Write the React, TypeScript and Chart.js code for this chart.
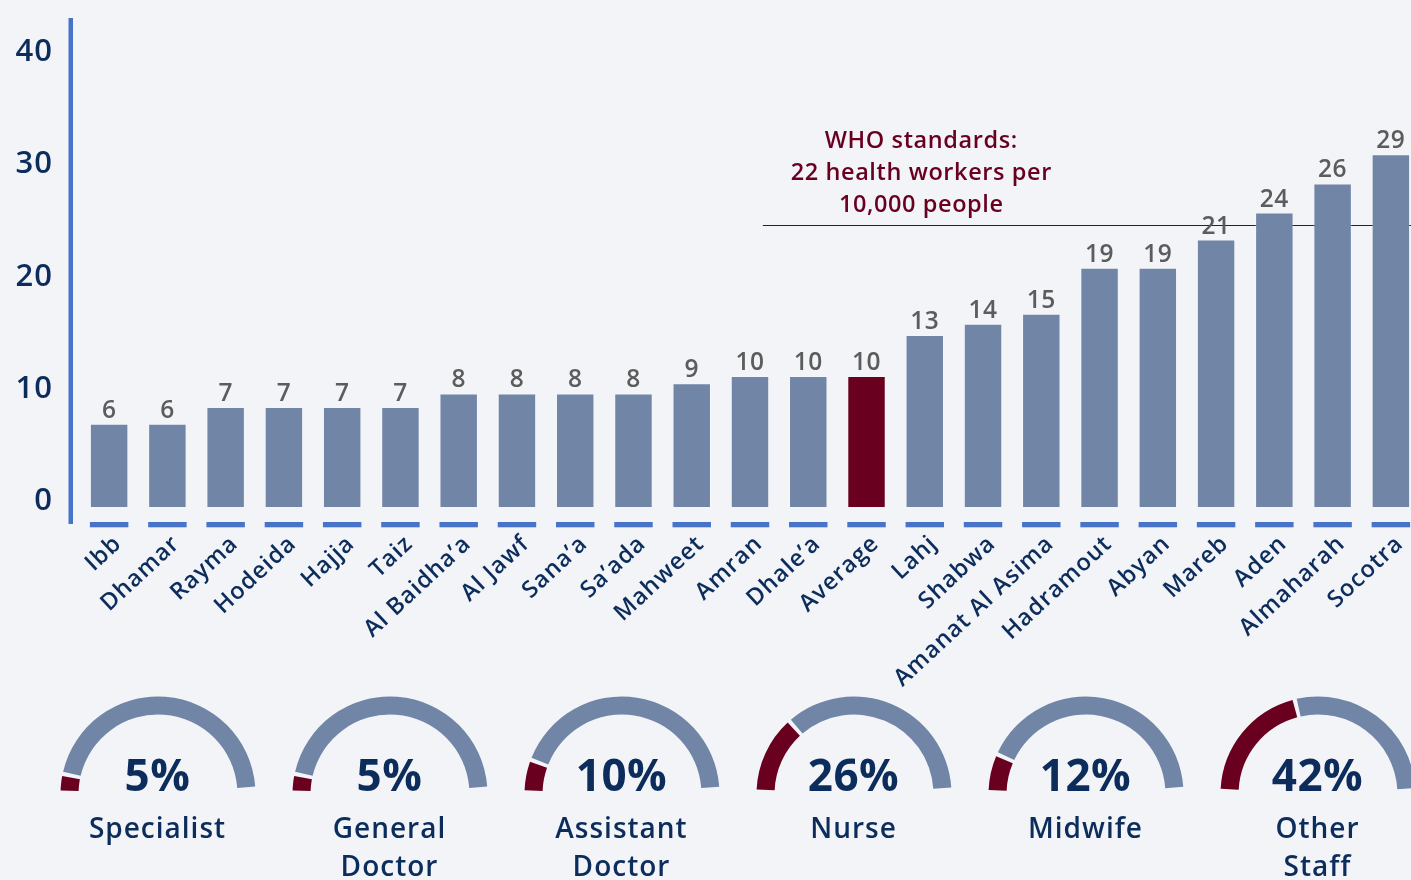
import React, { useEffect, useRef } from 'react';
import { Chart, registerables } from 'chart.js';

Chart.register(...registerables);

// ---------- data ----------
const categories = [
  'Ibb', 'Dhamar', 'Rayma', 'Hodeida', 'Hajja', 'Taiz', 'Al Baidha’a', 'Al Jawf',
  'Sana’a', 'Sa’ada', 'Mahweet', 'Amran', 'Dhale’a', 'Average', 'Lahj', 'Shabwa',
  'Amanat Al Asima', 'Hadramout', 'Abyan', 'Mareb', 'Aden', 'Almaharah', 'Socotra',
];
// bar heights as read against the left axis
const barValues = [
  6.7, 6.7, 8.2, 8.2, 8.2, 8.2, 9.4, 9.4, 9.4, 9.4, 10.3, 10.95, 10.95, 10.95,
  14.6, 15.6, 16.5, 20.6, 20.6, 23.1, 25.5, 28.1, 30.7,
];
// numbers printed above the bars
const valueLabels = [
  '6', '6', '7', '7', '7', '7', '8', '8', '8', '8', '9', '10', '10', '10',
  '13', '14', '15', '19', '19', '21', '24', '26', '29',
];
const highlightIndex = 13;
const yTicks = [0, 10, 20, 30, 40];
const whoLineValue = 24.4;
const whoText = ['WHO standards:', '22 health workers per', '10,000 people'];

const gaugeValues = [5, 5, 10, 26, 12, 42];
const gaugeLabels = [
  ['Specialist'], ['General', 'Doctor'], ['Assistant', 'Doctor'],
  ['Nurse'], ['Midwife'], ['Other', 'Staff'],
];

// ---------- style ----------
const BG = '#f2f4f8';
const GREY = '#7185a6';
const RED = '#6a0020';
const BLUE = '#4774c8';
const NAVY = '#0c2d5c';
const LABEL_GREY = '#5c5c5c';
const FONT = '"Open Sans", "Noto Sans", sans-serif';

const Y_MIN = -1.96;
const Y_MAX = 42.83;
const BAR_BASE = -0.71;

const overlayPlugin = {
  id: 'overlay',
  beforeDraw(chart: any) {
    (chart.ctx as any).letterSpacing = '1px';
  },
  beforeDatasetsDraw(chart: any) {
    const { ctx, chartArea, scales } = chart;
    const x = scales.x;
    const y = scales.y;
    ctx.save();
    // y axis line
    ctx.fillStyle = BLUE;
    ctx.fillRect(chartArea.left - 11.5, chartArea.top, 4.5, chartArea.bottom + 3 - chartArea.top);
    // WHO line
    const ly = Math.round(y.getPixelForValue(whoLineValue)) + 0.5;
    ctx.strokeStyle = RED;
    ctx.lineWidth = 1.2;
    ctx.beginPath();
    ctx.moveTo(x.getPixelForValue(11.22), ly);
    ctx.lineTo(chartArea.right, ly);
    ctx.stroke();
    // WHO text
    ctx.fillStyle = RED;
    ctx.font = `600 23.5px ${FONT}`;
    (ctx as any).letterSpacing = '0.6px';
    ctx.textAlign = 'center';
    ctx.textBaseline = 'alphabetic';
    const tx = x.getPixelForValue(13.94);
    whoText.forEach((t, i) => {
      ctx.fillText(t, tx, ly - 78 + i * 32);
    });
    ctx.restore();
  },
  afterDatasetsDraw(chart: any) {
    const { ctx, chartArea } = chart;
    const meta = chart.getDatasetMeta(0);
    ctx.save();
    (ctx as any).letterSpacing = '0.5px';
    meta.data.forEach((bar: any, i: number) => {
      const p = bar.getProps(['x', 'y', 'width'], true);
      ctx.fillStyle = BLUE;
      ctx.fillRect(p.x - p.width / 2, chartArea.bottom + 1, p.width, 5.3);
      ctx.fillStyle = LABEL_GREY;
      ctx.font = `600 24.5px ${FONT}`;
      ctx.textAlign = 'center';
      ctx.textBaseline = 'alphabetic';
      ctx.fillText(valueLabels[i], p.x, p.y - 6);
    });
    ctx.restore();
  },
};

function BarChart() {
  const ref = useRef<HTMLCanvasElement>(null);
  useEffect(() => {
    const canvas = ref.current;
    if (!canvas) return;
    const chart = new Chart(canvas, {
      type: 'bar',
      data: {
        labels: categories,
        datasets: [
          {
            data: barValues,
            base: BAR_BASE,
            backgroundColor: categories.map((_, i) => (i === highlightIndex ? RED : GREY)),
            borderColor: 'rgba(255,255,255,0.22)',
            borderWidth: 1,
            barPercentage: 0.66,
            categoryPercentage: 1,
          } as any,
        ],
      },
      options: {
        animation: false,
        responsive: false,
        maintainAspectRatio: false,
        events: [],
        layout: { padding: { top: 18, right: 10, left: 0, bottom: 0 } },
        plugins: { legend: { display: false }, tooltip: { enabled: false } },
        scales: {
          x: {
            offset: true,
            grid: { display: false, drawTicks: false },
            border: { display: false },
            ticks: {
              color: NAVY,
              font: { family: FONT, size: 23.5, weight: 600 as any },
              maxRotation: 43,
              minRotation: 43,
              autoSkip: false,
              padding: 9,
              labelOffset: 9,
            },
            afterFit: (s: any) => {
              s.height = 179;
              s.paddingLeft = 0;
              s.paddingRight = 0;
            },
          },
          y: {
            min: Y_MIN,
            max: Y_MAX,
            grid: { display: false, drawTicks: false },
            border: { display: false },
            afterBuildTicks: (s: any) => {
              s.ticks = yTicks.map((v) => ({ value: v }));
            },
            ticks: {
              color: NAVY,
              font: { family: FONT, size: 31, weight: 600 as any },
              padding: 27,
              labelOffset: 2.5,
            },
            afterFit: (s: any) => {
              s.width = 80;
              s.paddingTop = 0;
              s.paddingBottom = 0;
            },
          },
        },
      },
      plugins: [overlayPlugin],
    });
    return () => chart.destroy();
  }, []);
  return (
    <canvas
      ref={ref}
      width={1430}
      height={700}
      style={{ position: 'absolute', left: 0, top: 0, width: 1430, height: 700 }}
    />
  );
}

const GAUGE_R = 95;
const GAUGE_CY = 794;
const GAUGE_W = 232;
const GAUGE_H = 110;

function Gauge({ value, label, cx }: { value: number; label: string[]; cx: number }) {
  const ref = useRef<HTMLCanvasElement>(null);
  useEffect(() => {
    const canvas = ref.current;
    if (!canvas) return;
    const chart = new Chart(canvas, {
      type: 'doughnut',
      data: {
        labels: ['share', 'rest'],
        datasets: [
          {
            data: [value, 100 - value],
            backgroundColor: [RED, GREY],
            borderWidth: 0,
            spacing: 5,
          } as any,
        ],
      },
      options: {
        animation: false,
        responsive: false,
        maintainAspectRatio: false,
        events: [],
        rotation: -88,
        circumference: 176,
        cutout: '81%',
        radius: GAUGE_R,
        layout: { padding: 0 },
        plugins: { legend: { display: false }, tooltip: { enabled: false } },
      } as any,
      plugins: [
        {
          id: 'place',
          afterUpdate(c: any) {
            // keep the arc centre at the bottom-centre of the canvas
            const meta = c.getDatasetMeta(0);
            meta.data.forEach((arc: any) => {
              arc.x = GAUGE_W / 2;
              arc.y = GAUGE_H - 4;
            });
          },
        },
      ],
    });
    return () => chart.destroy();
  }, [value]);
  const canvasTop = GAUGE_CY - (GAUGE_H - 4);
  return (
    <>
      <canvas
        ref={ref}
        width={GAUGE_W}
        height={GAUGE_H}
        style={{ position: 'absolute', left: cx - GAUGE_W / 2, top: canvasTop, width: GAUGE_W, height: GAUGE_H }}
      />
      <div
        style={{
          position: 'absolute',
          left: cx - 116,
          width: 232,
          top: 751.6,
          textAlign: 'center',
          fontFamily: FONT,
          fontWeight: 700,
          fontSize: 44,
          lineHeight: '44px',
          color: NAVY,
          letterSpacing: '0.5px',
          whiteSpace: 'nowrap',
        }}
      >
        {value}%
      </div>
      <div
        style={{
          position: 'absolute',
          left: cx - 116,
          width: 232,
          top: 808.3,
          textAlign: 'center',
          fontFamily: FONT,
          fontWeight: 600,
          fontSize: 28,
          lineHeight: '38px',
          color: NAVY,
          letterSpacing: '1px',
          whiteSpace: 'nowrap',
        }}
      >
        {label.map((l, i) => (
          <div key={i}>{l}</div>
        ))}
      </div>
    </>
  );
}

const gaugeCenters = [157.5, 389.5, 621.5, 853.5, 1085.5, 1317.5];

export default function App() {
  useEffect(() => {
    document.body.style.background = BG;
  }, []);
  return (
    <div
      style={{
        position: 'fixed',
        left: 0,
        top: 0,
        width: 1411,
        height: 880,
        overflow: 'hidden',
        background: BG,
      }}
    >
      <BarChart />
      {gaugeValues.map((v, i) => (
        <Gauge key={i} value={v} label={gaugeLabels[i]} cx={gaugeCenters[i]} />
      ))}
    </div>
  );
}
